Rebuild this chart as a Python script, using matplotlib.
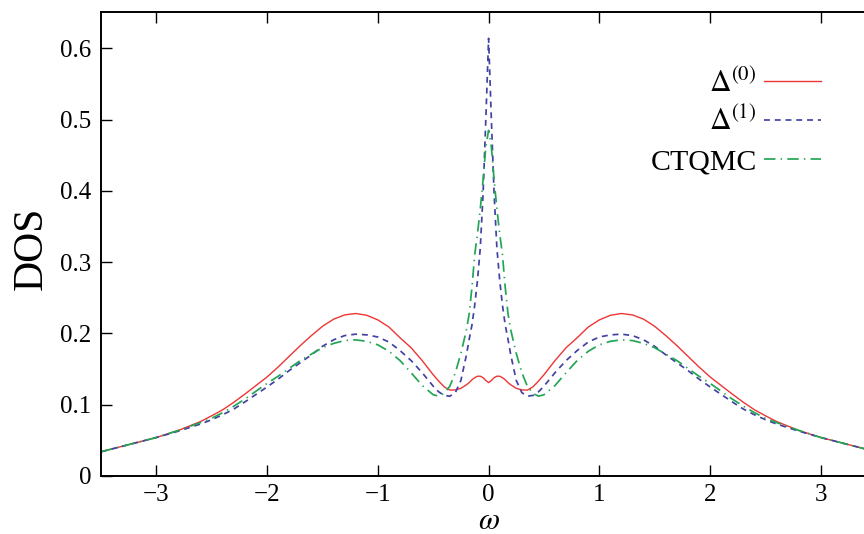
import matplotlib
matplotlib.use("Agg")
import matplotlib.pyplot as plt

plt.rcParams['font.family'] = ['Liberation Serif', 'DejaVu Serif']
plt.rcParams['mathtext.fontset'] = 'stix'

omega = [-3.5, -3.4, -3.2, -3.0, -2.8, -2.6, -2.5, -2.4, -2.3, -2.2, -2.0, -1.9, -1.8, -1.7,
         -1.6, -1.5, -1.4, -1.3, -1.2, -1.1, -1.0, -0.9, -0.8, -0.7, -0.6, -0.5, -0.45,
         -0.4, -0.35, -0.3, -0.25, -0.2, -0.175, -0.15, -0.125, -0.1, -0.075, -0.05,
         -0.025, 0.0,
         0.025, 0.05, 0.075, 0.1, 0.125, 0.15, 0.175, 0.2, 0.25, 0.3, 0.35, 0.4, 0.45,
         0.5, 0.6, 0.7, 0.8, 0.9, 1.0, 1.1, 1.2, 1.3, 1.4, 1.5, 1.6, 1.7, 1.8, 1.9, 2.0,
         2.2, 2.3, 2.4, 2.5, 2.6, 2.8, 3.0, 3.2, 3.4, 3.5]

dos_delta0 = [0.034, 0.038, 0.046, 0.054, 0.064, 0.0765, 0.0845, 0.093, 0.1035, 0.115,
              0.139, 0.153, 0.168, 0.183, 0.197, 0.210, 0.220, 0.226, 0.228, 0.2255, 0.219,
              0.209, 0.194, 0.180, 0.162, 0.142, 0.133, 0.125, 0.1205, 0.1208, 0.123, 0.128,
              0.131, 0.135, 0.138, 0.140, 0.140, 0.138, 0.134, 0.131,
              0.134, 0.138, 0.140, 0.140, 0.138, 0.135, 0.131, 0.128, 0.123, 0.1208, 0.1205,
              0.125, 0.133, 0.142, 0.162, 0.180, 0.194, 0.209, 0.219, 0.2255, 0.228, 0.226,
              0.220, 0.210, 0.197, 0.183, 0.168, 0.153, 0.139, 0.115, 0.1035, 0.093, 0.0845,
              0.0765, 0.064, 0.054, 0.046, 0.038, 0.034]

dos_delta1 = [0.034, 0.038, 0.046, 0.054, 0.063, 0.073, 0.079, 0.086, 0.094, 0.104, 0.125,
              0.136, 0.148, 0.159, 0.170, 0.182, 0.191, 0.197, 0.199, 0.198, 0.195, 0.188,
              0.176, 0.162, 0.145, 0.126, 0.118, 0.113, 0.112, 0.117, 0.134, 0.170, 0.192,
              0.212, 0.240, 0.275, 0.320, 0.395, 0.500, 0.614,
              0.500, 0.395, 0.320, 0.275, 0.240, 0.212, 0.192, 0.170, 0.134, 0.117, 0.112,
              0.113, 0.118, 0.126, 0.145, 0.162, 0.176, 0.188, 0.195, 0.198, 0.199, 0.197,
              0.191, 0.182, 0.170, 0.159, 0.148, 0.136, 0.125, 0.104, 0.094, 0.086, 0.079,
              0.073, 0.063, 0.054, 0.046, 0.038, 0.034]

dos_ctqmc = [0.034, 0.038, 0.046, 0.054, 0.064, 0.075, 0.081, 0.089, 0.098, 0.108, 0.130,
             0.140, 0.151, 0.162, 0.171, 0.180, 0.186, 0.190, 0.191, 0.189, 0.184, 0.175,
             0.162, 0.145, 0.127, 0.114, 0.112, 0.116, 0.126, 0.145, 0.172, 0.205, 0.228,
             0.265, 0.311, 0.340, 0.375, 0.415, 0.462, 0.485,
             0.462, 0.415, 0.375, 0.340, 0.311, 0.265, 0.228, 0.205, 0.172, 0.145, 0.126,
             0.116, 0.112, 0.114, 0.127, 0.145, 0.162, 0.175, 0.184, 0.189, 0.191, 0.190,
             0.186, 0.180, 0.171, 0.162, 0.151, 0.140, 0.130, 0.108, 0.098, 0.089, 0.081,
             0.075, 0.064, 0.054, 0.046, 0.038, 0.034]

labels = [r'$\Delta^{(0)}$', r'$\Delta^{(1)}$', 'CTQMC']
xticks = [-3, -2, -1, 0, 1, 2, 3]
yticks = [0, 0.1, 0.2, 0.3, 0.4, 0.5, 0.6]
ytick_labels = ['0', '0.1', '0.2', '0.3', '0.4', '0.5', '0.6']

fig = plt.figure(figsize=(8.64, 5.34), dpi=100)
ax = fig.add_axes([101/864, 58/534, 763/864, 464/534])

l0, = ax.plot(omega, dos_delta0, color='#ee3535', lw=1.0, label=labels[0])
l1, = ax.plot(omega, dos_delta1, color='#4242a4', lw=1.25, dashes=(3.4, 2.8), label=labels[1])
l2, = ax.plot(omega, dos_ctqmc, color='#22a655', lw=1.25, dashes=(6.6, 3.0, 0.8, 3.0),
              label=labels[2])

xmin, xmax = -3.5, 3.39
ax.set_xlim(xmin, xmax)
ax.set_ylim(0, 0.651)
ax.set_xticks(xticks)
ax.set_xticklabels(['\u2212%d' % -t if t < 0 else '%d' % t for t in xticks])
ax.set_yticks(yticks)
ax.set_yticklabels(ytick_labels)
ax.tick_params(direction='in', length=8, width=1.0, labelsize=18, top=True, right=False)
ax.tick_params(axis='x', pad=6)
ax.tick_params(axis='y', pad=7)
for s in ['left', 'bottom', 'top']:
    ax.spines[s].set_linewidth(1.4)
ax.spines['right'].set_visible(False)

ax.set_xlabel(r'$\omega$', fontsize=22)
ax.xaxis.set_label_coords((0 - xmin) / (xmax - xmin), -0.066)
ax.set_ylabel('DOS', fontsize=30)
ax.yaxis.set_label_coords(-0.066, 0.491)

# one legend box per entry so that the rows are evenly spaced, as in the original
leg_y = [0.847, 0.764, 0.677]
for i, (h, y) in enumerate(zip([l0, l1, l2], leg_y)):
    lg = ax.legend(handles=[h], loc='center right', bbox_to_anchor=(0.9436, y),
                   frameon=False, markerfirst=False, fontsize=21.5, handlelength=1.9,
                   handletextpad=0.25, borderpad=0, borderaxespad=0)
    if i < 2:
        ax.add_artist(lg)

fig.savefig('out.png', dpi=100)
